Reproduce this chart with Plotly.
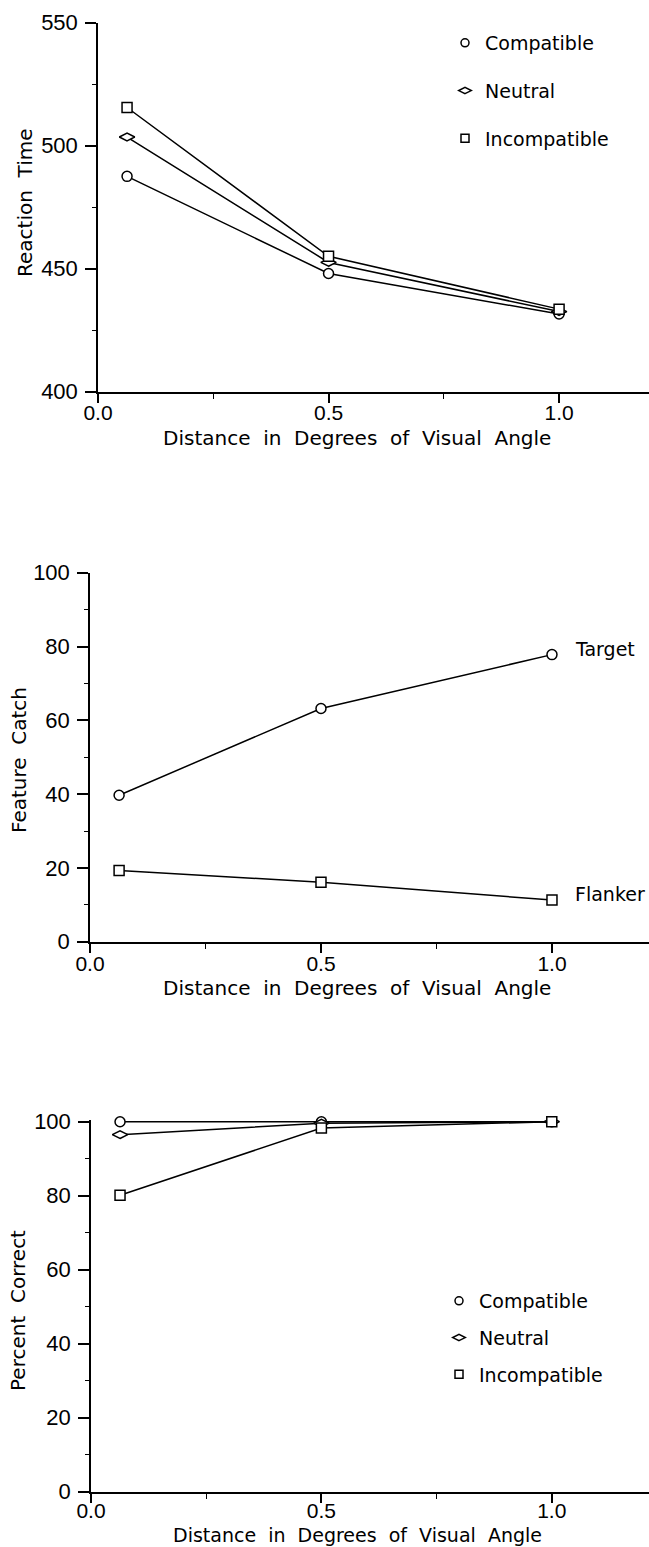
import plotly.graph_objects as go

# ---------------- data ----------------
distance = [0.063, 0.5, 1.0]

rt_compatible = [487.5, 448.0, 431.5]
rt_neutral = [503.5, 452.5, 432.5]
rt_incompatible = [515.5, 455.0, 433.5]

fc_target = [39.7, 63.2, 77.8]
fc_flanker = [19.3, 16.1, 11.3]

pc_compatible = [100.0, 100.0, 100.0]
pc_neutral = [96.5, 99.6, 100.0]
pc_incompatible = [80.1, 98.3, 100.0]

x_title = "Distance\u00a0 in\u00a0 Degrees\u00a0 of\u00a0 Visual\u00a0 Angle"
y_titles = ["Reaction\u00a0 Time", "Feature\u00a0 Catch", "Percent\u00a0 Correct"]
legend_names = ["Compatible", "Neutral", "Incompatible"]
flanker_labels = ["Target", "Flanker"]

# ---------------- layout constants ----------------
W, H = 649, 1547
FONT = "DejaVu Sans"
TICKFONT = "Liberation Sans"


def py(p):
    return 1 - p / H


def px(p):
    return p / W


sym = {"Compatible": "circle", "Neutral": "diamond-wide", "Incompatible": "square",
       "Target": "circle", "Flanker": "square"}

fig = go.Figure()


def add_line(x, y, name, xa, ya):
    fig.add_trace(go.Scatter(
        x=x, y=y, mode="lines+markers", name=name, showlegend=False,
        xaxis=xa, yaxis=ya, cliponaxis=False,
        line=dict(color="black", width=1.5),
        marker=dict(symbol=sym[name], size=10 if name != "Neutral" else 11,
                    color="white", line=dict(color="black", width=1.5)),
        hoverinfo="x+y+name"))


def add_legend_item(name, legend):
    fig.add_trace(go.Scatter(
        x=[None], y=[None], mode="markers", name=name, showlegend=True,
        legend=legend, legendgroup=legend + name,
        marker=dict(symbol=sym[name], size=8 if name != "Neutral" else 9,
                    color="white", line=dict(color="black", width=1.5))))


# top panel
for name, vals in zip(legend_names, [rt_compatible, rt_neutral, rt_incompatible]):
    add_line(distance, vals, name, "x", "y")
# middle panel
for name, vals in zip(flanker_labels, [fc_target, fc_flanker]):
    add_line(distance, vals, name, "x2", "y2")
# bottom panel
for name, vals in zip(legend_names, [pc_compatible, pc_neutral, pc_incompatible]):
    add_line(distance, vals, name, "x3", "y3")

for name in legend_names:
    add_legend_item(name, "legend")
for name in legend_names:
    add_legend_item(name, "legend2")

tickfont = dict(family=TICKFONT, size=22, color="black")
xtickfont = dict(family=TICKFONT, size=21, color="black")


def xaxis_style(x0, xmax, anchor, standoff=-8):
    return dict(domain=[px(x0), 1.0], range=[0, xmax], anchor=anchor,
                showline=True, linecolor="black", linewidth=1.5,
                ticks="outside", ticklen=10, tickwidth=1.5, tickcolor="black",
                dtick=0.5, tick0=0, tickformat=".1f", tickfont=xtickfont,
                ticklabelstandoff=standoff,
                showgrid=False, zeroline=False,
                minor=dict(ticks="outside", ticklen=6, tickwidth=1.2,
                           tickcolor="black", dtick=0.25, showgrid=False))


def yaxis_style(p0, p1, rng, dtick, mdtick, anchor):
    return dict(domain=[py(p0), py(p1)], range=rng, anchor=anchor,
                showline=True, linecolor="black", linewidth=1.5,
                ticks="outside", ticklen=11, tickwidth=1.5, tickcolor="black",
                dtick=dtick, tick0=0, tickfont=tickfont, ticklabelstandoff=3,
                showgrid=False, zeroline=False,
                minor=dict(ticks="outside", ticklen=4, tickwidth=1.2,
                           tickcolor="black", dtick=mdtick, showgrid=False))


legend_common = dict(xanchor="left", yanchor="top",
                     font=dict(family=FONT, size=19, color="black"),
                     bgcolor="rgba(0,0,0,0)", borderwidth=0,
                     itemclick=False, itemdoubleclick=False)

fig.update_layout(
    width=W, height=H,
    margin=dict(l=0, r=0, t=0, b=0, pad=0, autoexpand=False),
    paper_bgcolor="white", plot_bgcolor="white",
    font=dict(family=FONT, color="black"),
    xaxis=xaxis_style(98, 1.195, "y"),
    yaxis=yaxis_style(391.5, 22.7, [400, 550], 50, 25, "x"),
    xaxis2=xaxis_style(90, 1.21, "y2"),
    yaxis2=yaxis_style(941.7, 572.7, [0, 100], 20, 10, "x2"),
    xaxis3=xaxis_style(91, 1.211, "y3", standoff=-11),
    # range extended slightly so the 100 % line is not clipped at the frame
    yaxis3=yaxis_style(1491.7, 1119.85, [0, 100.5], 20, 10, "x3"),
    legend=dict(x=px(445), y=py(24), tracegroupgap=20, **legend_common),
    legend2=dict(x=px(439), y=py(1282), tracegroupgap=9, **legend_common),
)

annots = []
for yc, fs in zip([438, 988, 1535], [20, 20, 19]):
    annots.append(dict(text=x_title, x=px(357), y=py(yc), xref="paper", yref="paper",
                       xanchor="center", yanchor="middle", showarrow=False,
                       font=dict(family=FONT, size=fs, color="black")))
for t, xc, yc in zip(y_titles, [25, 19, 18], [203, 760, 1311]):
    annots.append(dict(text=t, x=px(xc), y=py(yc), xref="paper", yref="paper",
                       xanchor="center", yanchor="middle", textangle=-90, showarrow=False,
                       font=dict(family=FONT, size=20, color="black")))
for t, vals in zip(flanker_labels, [fc_target, fc_flanker]):
    annots.append(dict(text=t, x=distance[-1], y=vals[-1], xref="x2", yref="y2",
                       xanchor="left", yanchor="middle", xshift=21, yshift=6,
                       showarrow=False, font=dict(family=FONT, size=19, color="black")))
fig.update_layout(annotations=annots)

fig.write_html("out.html")
